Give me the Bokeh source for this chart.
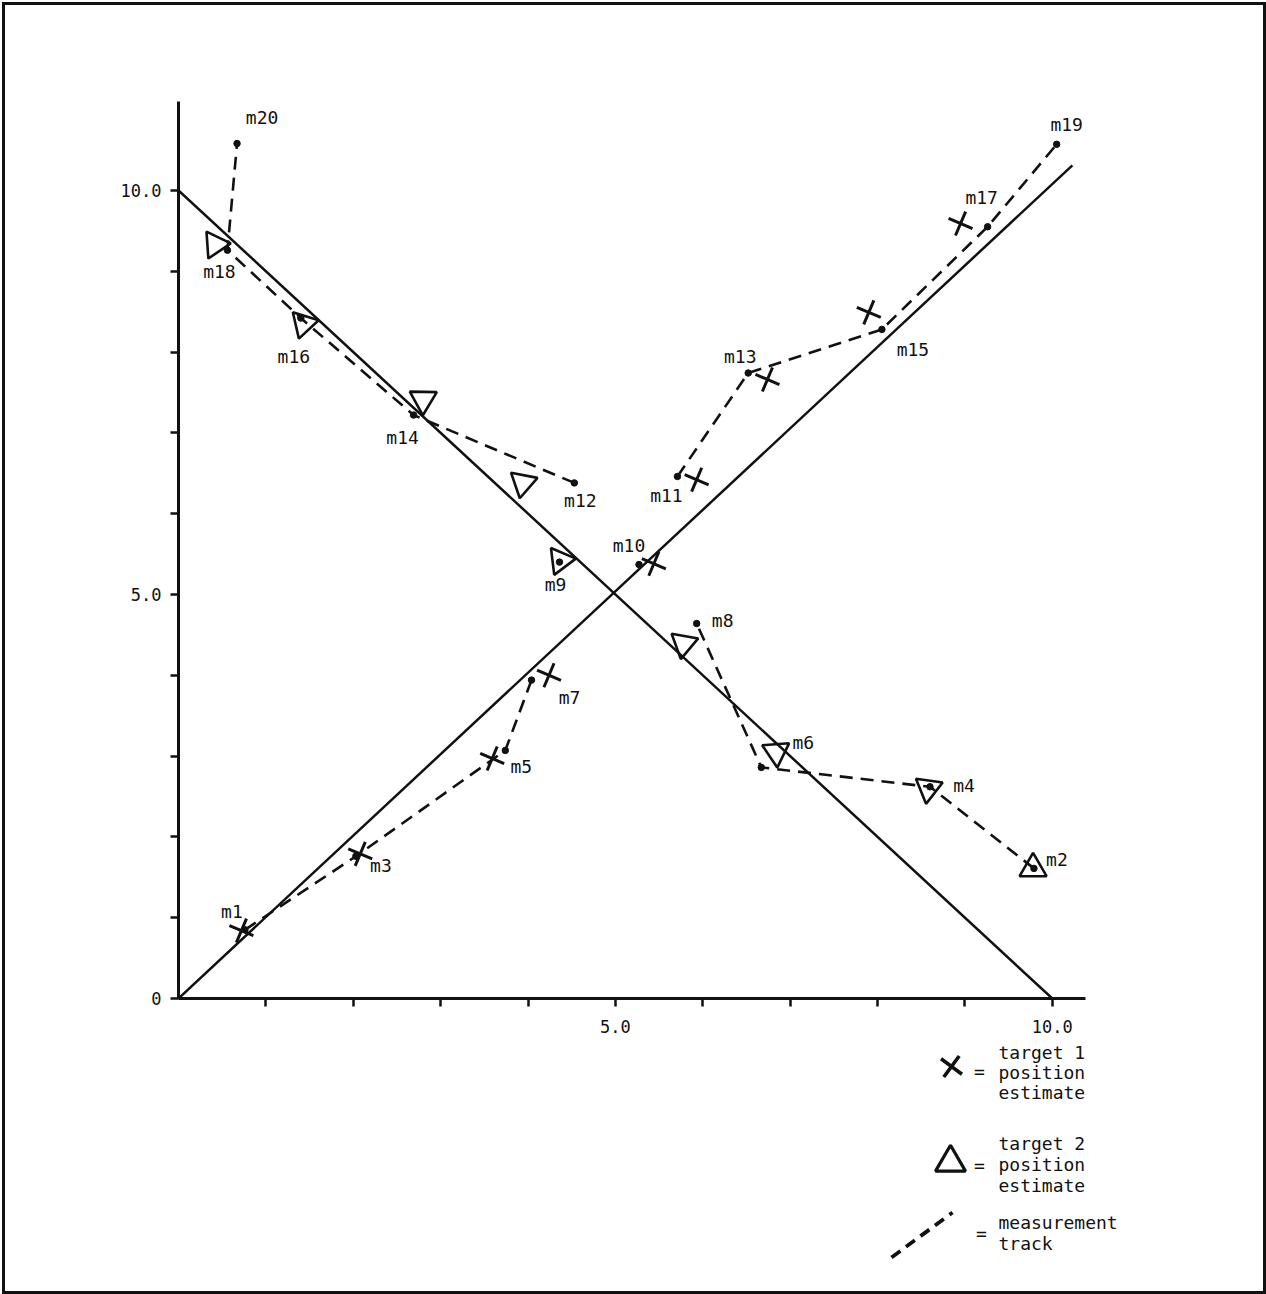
from bokeh.plotting import figure
from bokeh.layouts import column, row
from bokeh.models import Range1d, FixedTicker, ColumnDataSource, InlineStyleSheet, Spacer
from bokeh.core.properties import value
from bokeh.embed import file_html
from bokeh.resources import INLINE

# ---------------- data ----------------
# true target paths
true1_x = [0.0, 10.23]
true1_y = [0.0, 10.31]
true2_x = [0.0, 10.0]
true2_y = [10.0, 0.0]

# measurements m1..m20
meas_names = ["m%d" % i for i in range(1, 21)]
meas_x = [0.76, 9.79, 2.03, 8.60, 3.74, 6.67, 4.04, 5.93, 4.36, 5.27,
          5.71, 4.53, 6.52, 2.69, 8.05, 1.40, 9.26, 0.56, 10.05, 0.67]
meas_y = [0.85, 1.61, 1.76, 2.62, 3.07, 2.86, 3.94, 4.64, 5.40, 5.37,
          6.46, 6.38, 7.74, 7.22, 8.28, 8.42, 9.55, 9.26, 10.57, 10.58]

# measurement tracks (dashed), by measurement name
tracks = [
    ["m1", "m3", "m5", "m7"],
    ["m11", "m13", "m15", "m17", "m19"],
    ["m2", "m4", "m6", "m8"],
    ["m12", "m14", "m16", "m18", "m20"],
]

# target 1 position estimates (X)
est1_x = [0.72, 2.08, 3.59, 4.24, 5.44, 5.93, 6.74, 7.90, 8.95]
est1_y = [0.84, 1.79, 2.97, 4.00, 5.38, 6.42, 7.66, 8.49, 9.59]

# target 2 position estimates (triangles)
est2_x = [9.78, 8.58, 6.84, 5.78, 4.37, 3.94, 2.80, 1.43, 0.42]
est2_y = [1.61, 2.60, 3.05, 4.39, 5.42, 6.38, 7.41, 8.35, 9.33]

# axis tick labels
x_tick_labels = {5: "5.0", 10: "10.0"}
y_tick_labels = {0: "0", 5: "5.0", 10: "10.0"}

# legend entries
legend_lines_1 = ["target 1", "position", "estimate"]
legend_lines_2 = ["target 2", "position", "estimate"]
legend_lines_3 = ["measurement", "track"]

# ---------------- styles ----------------
est2_angle_deg = [0, 52, 64, 50, 37, 49, 59, 43, 34]
label_dx = [-13, 23, 25, 34, 16, 42, 38, 26, -4, -10, -11, 6, -8, -11, 31, -7, -6, -8, 10, 25]
label_dy = [-18, -9, 9, -1, 16, -25, 17, -3, 22, -19, 19, 18, -17, 22, 20, 38, -29, 21, -20, -26]

MONO = "DejaVu Sans Mono"
INK = "#111111"

W, H_MAIN, H_TOTAL = 1264, 1040, 1292
FL, FR, FT, FB = 178, 1085, 101, 998
X0, X1, Y0, Y1 = 0.0, 10.38, 0.0, 11.1

p = figure(width=W, height=H_MAIN, output_backend="svg", toolbar_location=None,
           x_range=Range1d(X0, X1), y_range=Range1d(Y0, Y1),
           min_border_left=FL, min_border_right=W - FR,
           min_border_top=FT, min_border_bottom=H_MAIN - FB)
p.outline_line_color = None
p.grid.visible = False
p.background_fill_color = "white"
p.border_fill_color = "white"

for ax in (p.xaxis[0], p.yaxis[0]):
    ax.axis_line_width = 3
    ax.axis_line_color = INK
    ax.major_tick_line_width = 2.5
    ax.major_tick_line_color = INK
    ax.major_tick_in = 0
    ax.major_tick_out = 8
    ax.minor_tick_line_color = None
    ax.major_label_text_font = MONO
    ax.major_label_text_font_size = "17px"
    ax.major_label_text_color = INK

p.xaxis.ticker = FixedTicker(ticks=list(range(1, 11)))
xo = {i: "" for i in range(1, 11)}
xo.update(x_tick_labels)
p.xaxis.major_label_overrides = xo
p.xaxis.major_label_standoff = 13

p.yaxis.ticker = FixedTicker(ticks=list(range(0, 11)))
yo = {i: "" for i in range(0, 11)}
yo.update(y_tick_labels)
p.yaxis.major_label_overrides = yo
p.yaxis.major_label_standoff = 9

# true paths
p.line(true1_x, true1_y, line_color=INK, line_width=2.5)
p.line(true2_x, true2_y, line_color=INK, line_width=2.5)

# measurement tracks
idx = {n: i for i, n in enumerate(meas_names)}
p.multi_line([[meas_x[idx[n]] for n in t] for t in tracks],
             [[meas_y[idx[n]] for n in t] for t in tracks],
             line_color=INK, line_width=2.6, line_dash="13 8")

# measurement dots
p.scatter(meas_x, meas_y, size=6.5, color=INK)

# estimates
p.scatter(est1_x, est1_y, marker="cross", size=26, angle=-0.4,
          line_color=INK, line_width=3, fill_color=None)
p.scatter(est2_x, est2_y, marker="triangle", size=27,
          angle=[a * 3.14159265 / 180 for a in est2_angle_deg],
          line_color=INK, line_width=2.6, fill_color=None)

# measurement labels
src = ColumnDataSource(dict(x=meas_x, y=meas_y, t=meas_names, dx=label_dx, dy=label_dy))
p.text(x="x", y="y", text="t", x_offset="dx", y_offset="dy", source=src,
       text_align="center", text_baseline="middle", text_color=INK,
       text_font=value(MONO), text_font_size="18px")

# ---------------- legend figure (page pixel coordinates) ----------------
LX0, LX1 = 860, 1130
LY0, LY1 = H_MAIN, H_TOTAL
leg = figure(width=LX1 - LX0, height=LY1 - LY0, output_backend="svg", toolbar_location=None,
             x_range=Range1d(LX0, LX1), y_range=Range1d(LY1, LY0),
             x_axis_type=None, y_axis_type=None,
             min_border=0, min_border_left=0, min_border_right=0,
             min_border_top=0, min_border_bottom=0)
leg.outline_line_color = None
leg.grid.visible = False
leg.background_fill_color = "white"
leg.border_fill_color = "white"

TX = 998
leg.scatter([951], [1066], marker="x", size=26, angle=0.15, line_color=INK, line_width=3.6)
leg.scatter([950], [1162], marker="triangle", size=30, line_color=INK, line_width=3.2, fill_color=None)
leg.line([891, 952], [1257, 1212], line_color=INK, line_width=3.8, line_dash="11 7")

eq_x = [979, 979, 981]
eq_y = [1071, 1165, 1233]
leg.text(x=eq_x, y=eq_y, text=["="] * 3, text_align="center", text_baseline="middle",
         text_color=INK, text_font=value(MONO), text_font_size="18px")

ly = [1052, 1072, 1092, 1143, 1164, 1185, 1222, 1243]
lt = legend_lines_1 + legend_lines_2 + legend_lines_3
leg.text(x=[TX] * len(lt), y=ly, text=lt, text_align="left", text_baseline="middle",
         text_color=INK, text_font=value(MONO), text_font_size="18px")

layout = column(p, row(Spacer(width=LX0, height=LY1 - LY0), leg), spacing=0)
layout.stylesheets = [InlineStyleSheet(css=(
    ":host::after { content: ''; position: absolute; left: 2px; top: 2px; "
    "width: 1258px; height: 1286px; border: 3px solid #111; "
    "pointer-events: none; z-index: 1000; }"))]

open("out.html", "w").write(file_html(layout, INLINE))
